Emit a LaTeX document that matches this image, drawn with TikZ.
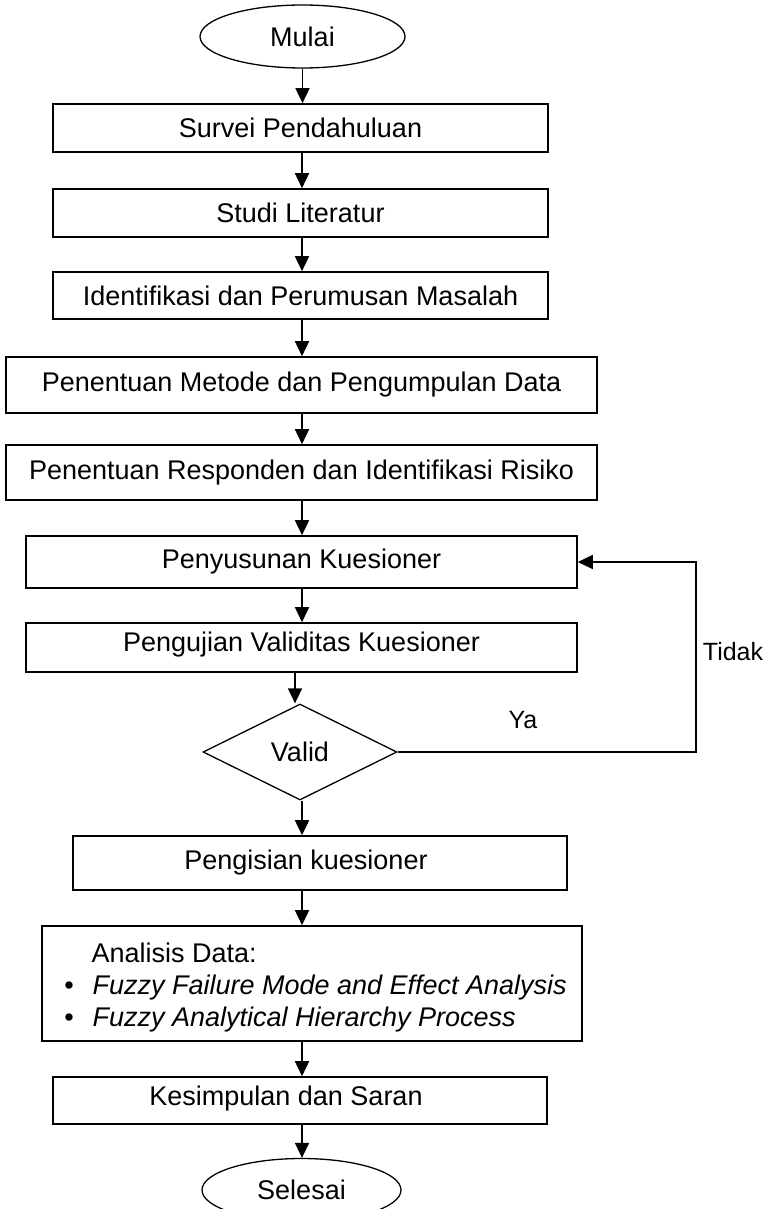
\documentclass[tikz,border=0pt]{standalone}
\usepackage{fontspec}
\setmainfont{Liberation Sans}
\usetikzlibrary{shapes.geometric,arrows.meta}
\begin{document}
\begin{tikzpicture}[x=1pt,y=1pt,
  every node/.style={font=\fontsize{27}{32}\selectfont},
  box/.style={draw,line width=1.6pt,rectangle,inner sep=0pt},
  term/.style={draw,line width=1.3pt,ellipse,inner sep=0pt,minimum width=#1,minimum height=63pt},
  dec/.style={draw,line width=1.3pt,diamond,aspect=2.02,inner sep=0pt,minimum width=194pt,minimum height=96pt},
  arr/.style={line width=1.6pt,-{Triangle[length=15pt,width=14pt]}},
  lbl/.style={font=\fontsize{25}{30}\selectfont}]
\useasboundingbox (0,0) rectangle (765,-1209);
\node[term=205pt] (start) at (302.5,-36.5) {Mulai};
\node[box,minimum width=495pt,minimum height=48pt] (survei) at (300.5,-128) {Survei Pendahuluan};
\node[box,minimum width=495pt,minimum height=48pt] (studi) at (300.5,-213) {Studi Literatur};
\node[box,minimum width=495pt,minimum height=47pt] (ident) at (300.5,-295.5) {Identifikasi dan Perumusan Masalah};
\node[box,minimum width=591pt,minimum height=56pt] (metode) at (301.5,-385) {Penentuan Metode dan Pengumpulan Data};
\node[box,minimum width=591pt,minimum height=55pt] (resp) at (301.5,-472.5) {Penentuan Responden dan Identifikasi Risiko};
\node[box,minimum width=551pt,minimum height=52pt] (susun) at (301.5,-562) {Penyusunan Kuesioner};
\node[box,minimum width=551pt,minimum height=49pt] (uji) at (301.5,-647.5) {};
\node (ujit) at (301.5,-645) {Pengujian Validitas Kuesioner};
\node[dec] (valid) at (300,-752) {Valid};
\node[box,minimum width=494pt,minimum height=54pt] (isi) at (320,-863) {};
\node (isit) at (306,-863) {Pengisian kuesioner};
\node[box,minimum width=540pt,minimum height=115pt] (anal) at (312,-983.5) {};
\node[anchor=base west] (a0) at (88,-962) {Analisis Data:};
\node[anchor=base west] (a1) at (89,-994) {\itshape Fuzzy Failure Mode and Effect Analysis};
\node[anchor=base west] (a2) at (89,-1026) {\itshape Fuzzy Analytical Hierarchy Process};
\node[anchor=base] (b1) at (69,-994) {\textbullet};
\node[anchor=base] (b2) at (69,-1026) {\textbullet};
\node[box,minimum width=494pt,minimum height=47pt] (simpul) at (300,-1100.5) {};
\node (simpult) at (286,-1099) {Kesimpulan dan Saran};
\node[term=199pt] (end) at (301.5,-1190) {Selesai};
\coordinate (ax) at (302,0);
\draw[arr] (start.south) -- (start.south |- survei.north);
\draw[arr] (survei.south -| ax) -- (studi.north -| ax);
\draw[arr] (studi.south -| ax) -- (ident.north -| ax);
\draw[arr] (ident.south -| ax) -- (metode.north -| ax);
\draw[arr] (metode.south -| ax) -- (resp.north -| ax);
\draw[arr] (resp.south -| ax) -- (susun.north -| ax);
\draw[arr] (susun.south -| ax) -- (uji.north -| ax);
\coordinate (vx) at (295,0);
\draw[arr] (uji.south -| vx) -- (vx |- valid.north);
\draw[arr] (valid.south -| ax) -- (isi.north -| ax);
\draw[arr] (isi.south -| ax) -- (anal.north -| ax);
\draw[arr] (anal.south -| ax) -- (simpul.north -| ax);
\draw[arr] (simpul.south -| ax) -- (end.north -| ax);
\coordinate (fb) at (696,-752);
\draw[arr] (valid.east) -- (fb) |- (susun.east);
\node[lbl] (tidak) at (733,-652) {Tidak};
\node[lbl] (ya) at (523,-720) {Ya};
\end{tikzpicture}
\end{document}
